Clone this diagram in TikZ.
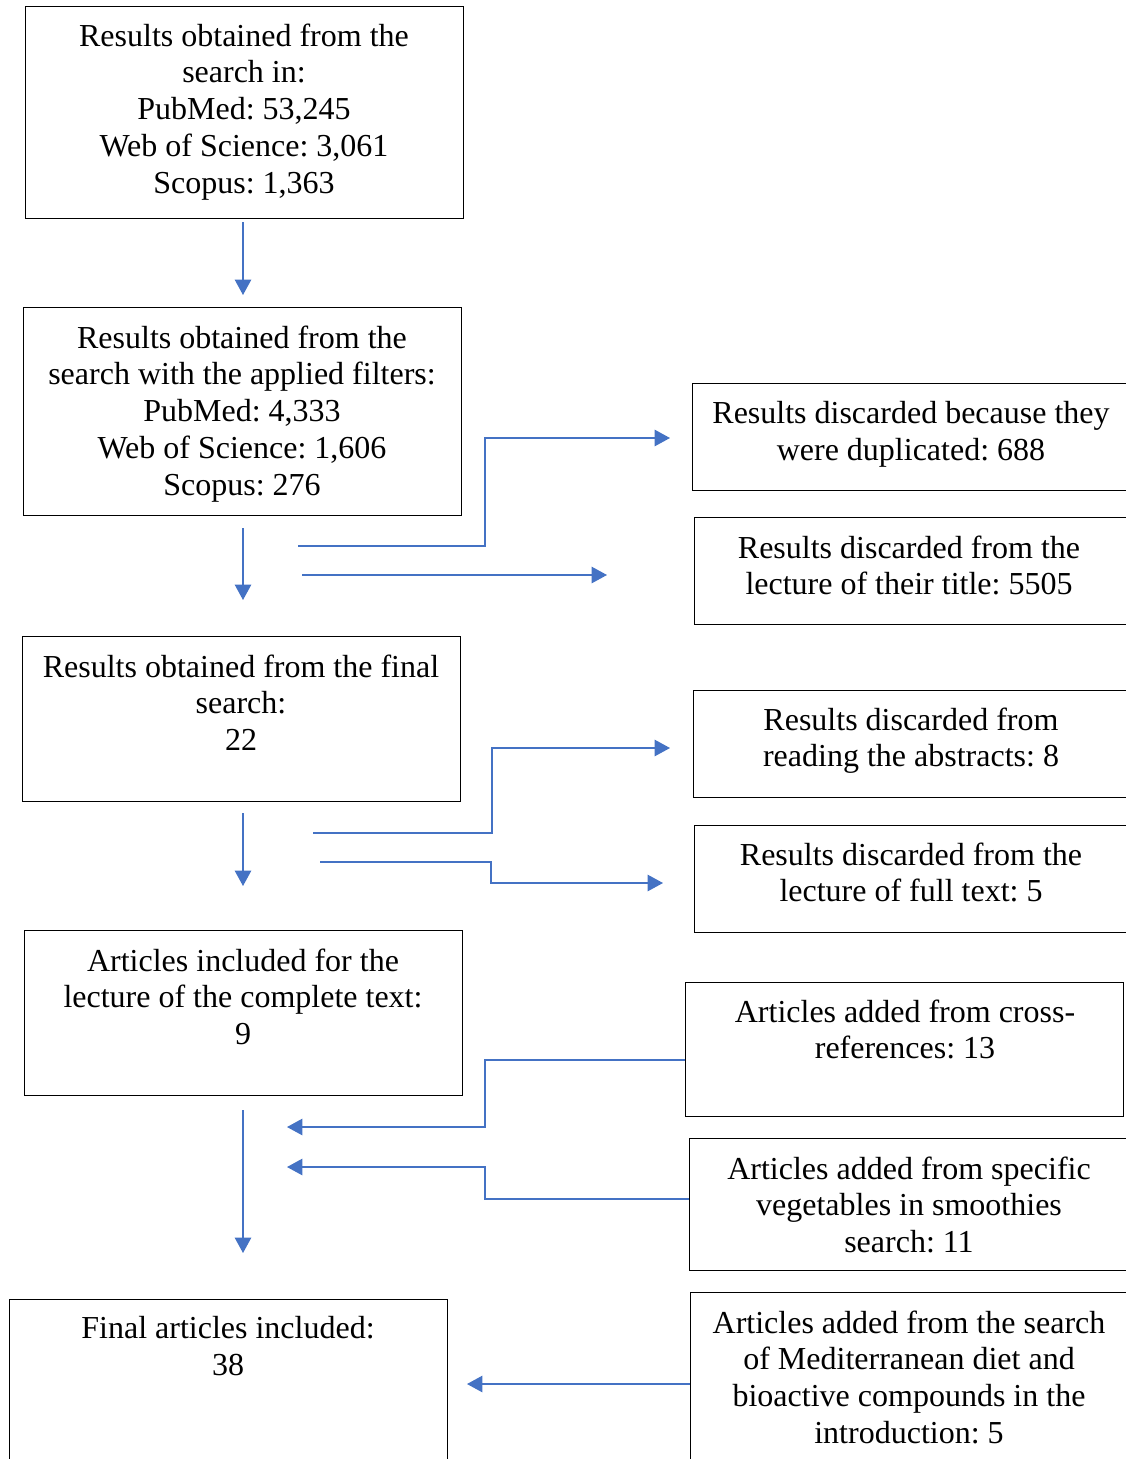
\documentclass[tikz,border=0pt]{standalone}
\usepackage{fontspec}
\setmainfont{Liberation Serif}
\usetikzlibrary{arrows.meta}
\definecolor{arrowblue}{HTML}{4472C4}
\begin{document}
\frenchspacing
\begin{tikzpicture}[x=0.375pt,y=-0.375pt,
  box/.style={draw=black,line width=0.55pt,rectangle,inner sep=0pt,anchor=north west},
  txt/.style={anchor=north,align=center,inner sep=0pt,font=\fontsize{12}{13.8}\selectfont},
  conn/.style={draw=arrowblue,line width=0.5pt,-{Triangle[length=5.8pt,width=6.2pt]}}]
\useasboundingbox (0,0) rectangle (1126,1459);
\clip (0,0) rectangle (1126,1459);
% left column boxes
\node[box,minimum width=438*0.375pt,minimum height=212*0.375pt] (b1) at (25,6) {};
\node[box,minimum width=438*0.375pt,minimum height=208*0.375pt] (b2) at (23,307) {};
\node[box,minimum width=438*0.375pt,minimum height=165*0.375pt] (b3) at (22,636) {};
\node[box,minimum width=438*0.375pt,minimum height=165*0.375pt] (b4) at (24,930) {};
\node[box,minimum width=438*0.375pt,minimum height=200*0.375pt] (b5) at (9,1299) {};
% right column boxes
\node[box,minimum width=480*0.375pt,minimum height=107*0.375pt] (r1) at (692,383) {};
\node[box,minimum width=480*0.375pt,minimum height=107*0.375pt] (r2) at (694,517) {};
\node[box,minimum width=480*0.375pt,minimum height=107*0.375pt] (r3) at (693,690) {};
\node[box,minimum width=480*0.375pt,minimum height=107*0.375pt] (r4) at (694,825) {};
\node[box,minimum width=438*0.375pt,minimum height=134*0.375pt] (r5) at (685,982) {};
\node[box,minimum width=480*0.375pt,minimum height=132*0.375pt] (r6) at (689,1138) {};
\node[box,minimum width=480*0.375pt,minimum height=200*0.375pt] (r7) at (690,1292) {};
% texts
\node[txt] (t1) at (244,23) {Results obtained from the\\search in:\\PubMed: 53,245\\Web of Science: 3,061\\Scopus: 1,363};
\node[txt] (t2) at (242,325) {Results obtained from the\\search with the applied filters:\\PubMed: 4,333\\Web of Science: 1,606\\Scopus: 276};
\node[txt] (t3) at (241,654) {Results obtained from the final\\search:\\22};
\node[txt] (t4) at (243,948) {Articles included for the\\lecture of the complete text:\\9};
\node[txt] (t5) at (228,1316) {Final articles included:\\38};
\node[txt] (tr1) at (911,401) {Results discarded because they\\were duplicated: 688};
\node[txt] (tr2) at (909,535) {Results discarded from the\\lecture of their title: 5505};
\node[txt] (tr3) at (911,707) {Results discarded from\\reading the abstracts: 8};
\node[txt] (tr4) at (911,842) {Results discarded from the\\lecture of full text: 5};
\node[txt] (tr5) at (905,999) {Articles added from cross-\\references: 13};
\node[txt] (tr6) at (909,1156) {Articles added from specific\\vegetables in smoothies\\search: 11};
\node[txt] (tr7) at (909,1310) {Articles added from the search\\of Mediterranean diet and\\bioactive compounds in the\\introduction: 5};
% free connector ends
\coordinate (a1s) at (243,222); \coordinate (a1e) at (243,295);
\coordinate (a2s) at (243,528); \coordinate (a2e) at (243,600);
\coordinate (a3s) at (298,546); \coordinate (a3e) at (670,438);
\coordinate (a4s) at (302,575); \coordinate (a4e) at (607,575);
\coordinate (a5s) at (243,813); \coordinate (a5e) at (243,886);
\coordinate (a6s) at (313,833); \coordinate (a6e) at (670,748);
\coordinate (a7s) at (320,862); \coordinate (a7e) at (663,883);
\coordinate (a8s) at (243,1110); \coordinate (a8e) at (243,1253);
\coordinate (a9e) at (287,1127);
\coordinate (a10e) at (287,1167);
\coordinate (a11e) at (467,1384);
% connectors
\draw[conn] (a1s) -- (a1e);
\draw[conn] (a2s) -- (a2e);
\draw[conn] (a3s) -- (485,546) -- (485,438) -- (a3e);
\draw[conn] (a4s) -- (a4e);
\draw[conn] (a5s) -- (a5e);
\draw[conn] (a6s) -- (492,833) -- (492,748) -- (a6e);
\draw[conn] (a7s) -- (491,862) -- (491,883) -- (a7e);
\draw[conn] (a8s) -- (a8e);
\draw[conn] (r5.west |- 0,1060) -- (485,1060) -- (485,1127) -- (a9e);
\draw[conn] (r6.west |- 0,1199) -- (485,1199) -- (485,1167) -- (a10e);
\draw[conn] (r7.west |- 0,1384) -- (a11e);
\end{tikzpicture}
\end{document}
